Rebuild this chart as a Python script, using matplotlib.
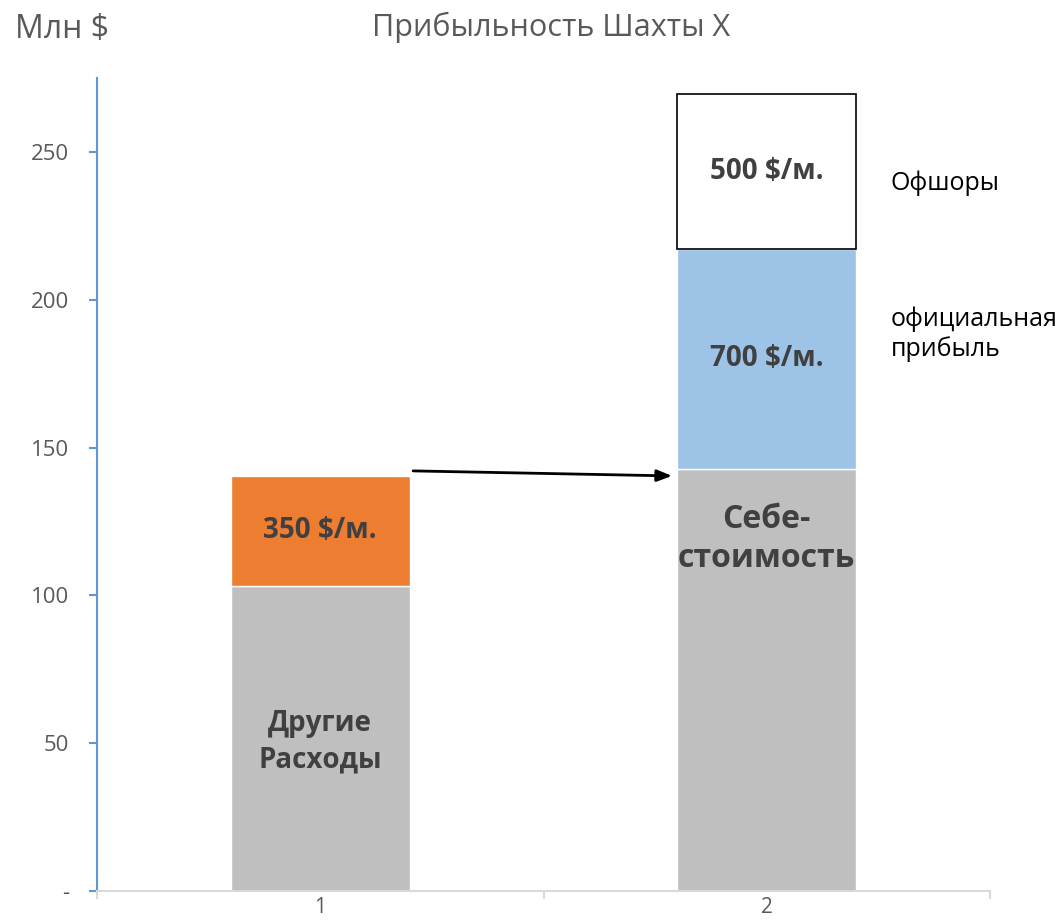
import matplotlib
matplotlib.use("Agg")
import matplotlib.pyplot as plt

# Data
categories = [1, 2]
other_costs = [103.2, 0]        # Другие Расходы (bar 1)
extra_350 = [37.2, 0]           # 350 $/м. (bar 1)
cost_price = [0, 142.8]         # Себестоимость (bar 2)
official_profit = [0, 74.4]     # 700 $/м. (bar 2)
offshore = [0, 52.4]            # 500 $/м. (bar 2)
y_ticks = [0, 50, 100, 150, 200, 250]
y_tick_labels = ["-", "50", "100", "150", "200", "250"]

plt.rcParams['font.family'] = ['Open Sans', 'DejaVu Sans']

W, H = 1063, 924
fig = plt.figure(figsize=(W / 100, H / 100), dpi=100)
ax = fig.add_axes([97 / W, 1 - 891 / H, (990 - 97) / W, (891 - 78) / H])

width = 0.40
gray = "#BFBFBF"
orange = "#ED7D31"
blue = "#9DC3E6"

# Bar 1
ax.bar(categories[0], other_costs[0], width, color=gray, edgecolor="white", linewidth=1, zorder=2)
ax.bar(categories[0], extra_350[0], width, bottom=other_costs[0], color=orange,
       edgecolor="white", linewidth=1, zorder=2)
# Bar 2
ax.bar(categories[1], cost_price[1], width, color=gray, edgecolor="white", linewidth=1, zorder=2)
ax.bar(categories[1], official_profit[1], width, bottom=cost_price[1], color=blue,
       edgecolor="white", linewidth=1, zorder=2)
ax.bar(categories[1], offshore[1], width, bottom=cost_price[1] + official_profit[1],
       color="white", edgecolor="black", linewidth=1.2, zorder=2)

ax.set_xlim(0.5, 2.5)
ax.set_ylim(0, 275)

# Axes styling
for s in ["top", "right"]:
    ax.spines[s].set_visible(False)
ax.spines["left"].set_color("#5B9BD5")
ax.spines["left"].set_linewidth(1.5)
ax.spines["bottom"].set_color("#D9D9D9")
ax.spines["bottom"].set_linewidth(1.5)

ax.set_yticks(y_ticks)
ax.set_yticklabels(y_tick_labels)
ax.tick_params(axis="y", colors="#5B9BD5", length=6, width=1.5, labelcolor="#595959",
               labelsize=16, pad=14)
ax.set_xticks([0.5, 1.5, 2.5], minor=True)
ax.set_xticks(categories)
ax.set_xticklabels([str(c) for c in categories])
ax.tick_params(axis="x", which="major", length=0, labelcolor="#595959", labelsize=15, pad=4)
ax.tick_params(axis="x", which="minor", length=6, width=1.5, color="#D9D9D9")

# Labels inside bars
lab = dict(ha="center", va="center", color="#404040", fontweight="bold", zorder=3)
ax.text(categories[0], 50.5, "Другие\nРасходы", fontsize=20, linespacing=1.3, **lab)
ax.text(categories[0], other_costs[0] + extra_350[0] / 2, "350 $/м.", fontsize=20, **lab)
ax.text(categories[1], 119, "Себе-\nстоимость", fontsize=23, linespacing=1.25, **lab)
ax.text(categories[1], cost_price[1] + official_profit[1] / 2, "700 $/м.", fontsize=20, **lab)
ax.text(categories[1], cost_price[1] + official_profit[1] + offshore[1] / 2, "500 $/м.",
        fontsize=20, **lab)

# Side labels
ax.text(2.278, 239.5, "Офшоры", ha="left", va="center", fontsize=18, color="black")
ax.text(2.278, 188.4, "официальная\nприбыль", ha="left", va="center", fontsize=18,
        color="black", linespacing=1.2)

# Arrow
ax.annotate("", xy=(1.788, 140.4), xytext=(1.208, 142.1),
            arrowprops=dict(arrowstyle="-|>,head_length=0.9,head_width=0.35",
                            color="black", lw=2, shrinkA=0, shrinkB=0), zorder=4)

# Titles
fig.text(62 / W, 1 - 30 / H, "Млн $", ha="center", va="center", fontsize=23, color="#595959")
fig.text(551 / W, 1 - 27 / H, "Прибыльность Шахты X", ha="center", va="center",
         fontsize=22, color="#595959")

fig.savefig("out.png", dpi=100)
